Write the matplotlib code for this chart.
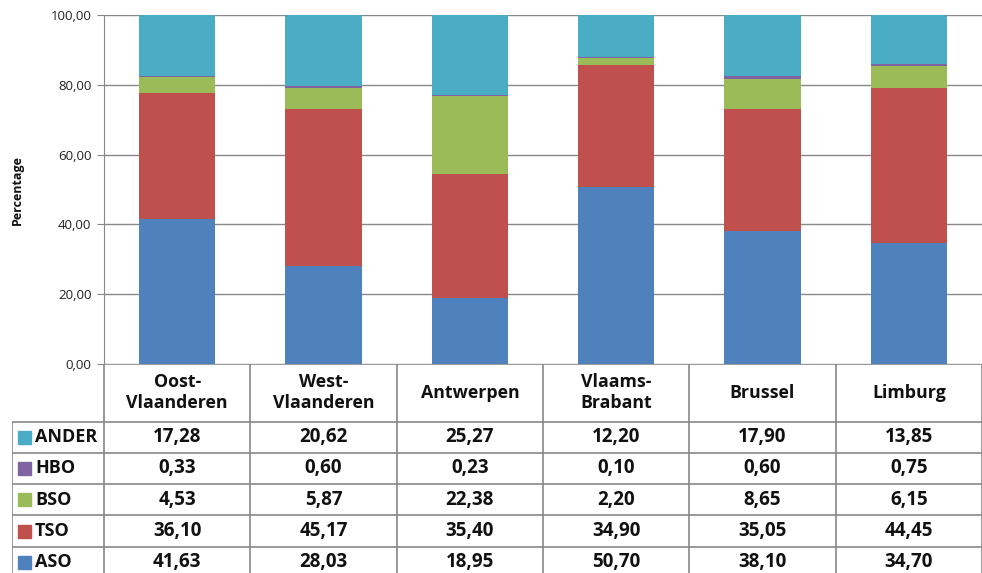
import matplotlib.pyplot as plt
from matplotlib.ticker import FuncFormatter
from matplotlib.patches import Rectangle

plt.rcParams['font.family'] = ['Open Sans', 'DejaVu Sans']

provinces = ["Oost-\nVlaanderen", "West-\nVlaanderen", "Antwerpen", "Vlaams-\nBrabant", "Brussel", "Limburg"]
aso = [41.63, 28.03, 18.95, 50.70, 38.10, 34.70]
tso = [36.10, 45.17, 35.40, 34.90, 35.05, 44.45]
bso = [4.53, 5.87, 22.38, 2.20, 8.65, 6.15]
hbo = [0.33, 0.60, 0.23, 0.10, 0.60, 0.75]
ander = [17.28, 20.62, 25.27, 12.20, 17.90, 13.85]

series = [("ASO", aso, "#4F81BD"), ("TSO", tso, "#C0504D"), ("BSO", bso, "#9BBB59"),
          ("HBO", hbo, "#8064A2"), ("ANDER", ander, "#4BACC6")]

W, H = 982, 573
fig = plt.figure(figsize=(W / 100, H / 100), dpi=100)
grid_col = "#888888"

# bar chart
ax = fig.add_axes([104 / W, (H - 364) / H, 878 / W, 349 / H])
x = range(len(provinces))
bottom = [0] * len(provinces)
for name, vals, col in series:
    ax.bar(x, vals, width=0.52, bottom=bottom, color=col, zorder=3)
    bottom = [b + v for b, v in zip(bottom, vals)]

ax.set_xlim(-0.5, len(provinces) - 0.5)
ax.set_ylim(0, 100)
ax.set_yticks([0, 20, 40, 60, 80, 100])
ax.yaxis.set_major_formatter(FuncFormatter(lambda v, p: f"{v:.2f}".replace(".", ",")))
ax.tick_params(axis="y", length=5, color=grid_col, labelsize=9.5, labelcolor="#222222", pad=4)
ax.set_xticks([])
ax.grid(axis="y", color=grid_col, linewidth=1, zorder=0)
for s in ["top", "right", "bottom"]:
    ax.spines[s].set_visible(False)
ax.spines["left"].set_color(grid_col)
fig.text(17 / W, 1 - 190 / H, "Percentage", rotation=90, ha="center", va="center",
         fontsize=9, fontweight="bold", color="#111111")

# data table
label_w = 92 / 146.33
rows = [364, 421.7, 452.7, 484, 515.3, 546.7, 578]
tab = fig.add_axes([12 / W, -5 / H, 970 / W, 214 / H])
tab.set_xlim(-0.5 - label_w, len(provinces) - 0.5)
tab.set_ylim(578, 364)
tab.axis("off")

tab.plot([-0.5, len(provinces) - 0.5], [rows[0], rows[0]], color=grid_col, lw=1.2)
for r in rows[1:]:
    tab.plot([-0.5 - label_w, len(provinces) - 0.5], [r, r], color=grid_col, lw=1.2)
tab.plot([-0.5 - label_w] * 2, [rows[1], rows[-1]], color=grid_col, lw=1.2)
for k in range(len(provinces) + 1):
    tab.plot([k - 0.5] * 2, [rows[0], rows[-1]], color=grid_col, lw=1.2)

for i, name in enumerate(provinces):
    tab.text(i, (rows[0] + rows[1]) / 2, name, ha="center", va="center",
             fontsize=12.8, fontweight="bold", linespacing=1.22, color="#111111")

px = 1 / 146.33
for j, (name, vals, col) in enumerate(reversed(series)):
    yc = (rows[j + 1] + rows[j + 2]) / 2
    tab.add_patch(Rectangle((-0.5 - label_w + 6 * px, yc - 6.5), 13 * px, 13,
                            color=col, clip_on=False))
    tab.text(-0.5 - label_w + 23 * px, yc, name, ha="left", va="center",
             fontsize=13, fontweight="bold", color="#111111")
    for i, v in enumerate(vals):
        tab.text(i, yc, f"{v:.2f}".replace(".", ","), ha="center", va="center",
                 fontsize=13.5, fontweight="bold", color="#111111")

fig.savefig("out.png", dpi=100)
